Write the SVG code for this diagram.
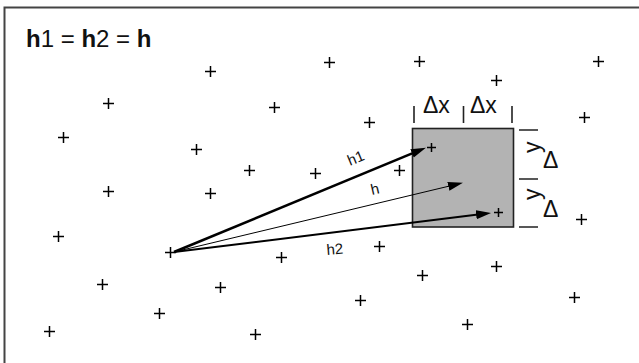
<svg xmlns="http://www.w3.org/2000/svg" width="639" height="363" viewBox="0 0 639 363">
<style>
.pl{stroke:#000;stroke-width:1.5;fill:none}
.t{font-family:"Liberation Sans",Arial,sans-serif;fill:#111}
.tick{stroke:#222;stroke-width:1.6}
.ar{stroke:#000;fill:none}
</style>
<defs>
<marker id="ah" markerUnits="userSpaceOnUse" markerWidth="16" markerHeight="10" refX="6" refY="4.5" orient="auto" viewBox="0 0 16 10">
<path d="M0,0 L15,4.5 L0,9 z" fill="#000"/>
</marker>
</defs>
<rect x="0" y="0" width="639" height="363" fill="#fff"/>
<rect x="4.5" y="7.5" width="700" height="400" fill="#fff" stroke="#444" stroke-width="2"/>
<text class="t" x="26" y="47" font-size="24"><tspan font-weight="bold">h</tspan>1 = <tspan font-weight="bold">h</tspan>2 = <tspan font-weight="bold">h</tspan></text>
<g id="points" class="pl">
<path d="M205,71.5h11M210.5,66v11 M103,103.5h11M108.5,98v11 M269,107.5h11M274.5,102v11 M58,137.5h11M63.5,132v11 M191,149.5h11M196.5,144v11 M244,170.5h11M249.5,165v11 M310,173.5h11M315.5,168v11"/>
<path d="M324,62.5h11M329.5,57v11 M414,61.5h11M419.5,56v11 M593,61.5h11M598.5,56v11 M491,80.5h11M496.5,75v11 M364,122.5h11M369.5,117v11 M579,117.5h11M584.5,112v11 M394,170.5h11M399.5,165v11"/>
<path d="M103,191.5h11M108.5,186v11 M205,193.5h11M210.5,188v11 M53,236.5h11M58.5,231v11 M165,252.5h11M170.5,247v11 M276,257.5h11M281.5,252v11 M97,284.5h11M102.5,279v11 M215,287.5h11M220.5,282v11 M154,313.5h11M159.5,308v11 M44,331.5h11M49.5,326v11 M250,334.5h11M255.5,329v11"/>
<path d="M576,219.5h11M581.5,214v11 M374,246.5h11M379.5,241v11 M491,266.5h11M496.5,261v11 M417,275.5h11M422.5,270v11 M355,300.5h11M360.5,295v11 M569,297.5h11M574.5,292v11 M462,324.5h11M467.5,319v11"/>
</g>
<g id="cell">
<rect x="412.5" y="128.5" width="101" height="98.5" fill="#b3b3b3" stroke="#222" stroke-width="1.6"/>
<path class="pl" d="M427,147.5h9M431.5,143v9 M494,212.5h9M498.5,208v9" stroke-width="1.1"/>
</g>
<g id="dx-labels">
<path class="tick" d="M414,106v17 M463.5,106v17 M512,106v17"/>
<text class="t" x="423" y="113" font-size="23">Δx</text>
<text class="t" x="470" y="113" font-size="23">Δx</text>
</g>
<g id="dy-labels">
<path class="tick" d="M519,130h19 M519,179h19 M519,227h19"/>
<text class="t" font-size="23" transform="translate(540,153) rotate(-90)">y</text>
<text class="t" x="543" y="168" font-size="23">Δ</text>
<text class="t" font-size="23" transform="translate(540,200) rotate(-90)">y</text>
<text class="t" x="543" y="217" font-size="23">Δ</text>
</g>
<g id="connectors">
<line class="ar" x1="174" y1="252" x2="417.6" y2="151.1" stroke-width="2.6" marker-end="url(#ah)"/>
<line class="ar" x1="174" y1="252" x2="454.2" y2="184.9" stroke-width="1" marker-end="url(#ah)"/>
<line class="ar" x1="174" y1="252" x2="482.1" y2="214" stroke-width="2" marker-end="url(#ah)"/>
<text class="t" font-size="15" transform="translate(350,166) rotate(-22.5)">h1</text>
<text class="t" font-size="15" transform="translate(372,195) rotate(-13)">h</text>
<text class="t" font-size="15" transform="translate(327,255) rotate(-5)">h2</text>
</g>
</svg>
